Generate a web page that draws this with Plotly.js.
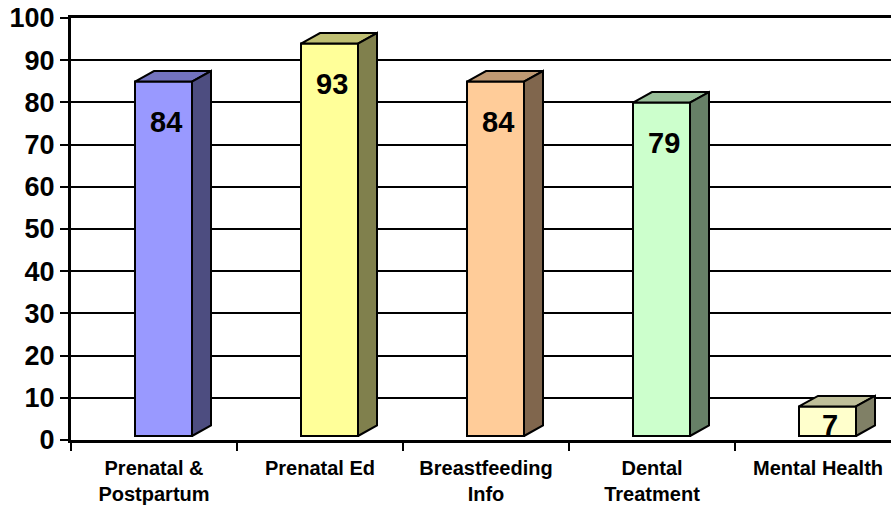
<!DOCTYPE html>
<html>
<head>
<meta charset="utf-8">
<script src="https://cdn.plot.ly/plotly-3.0.1.min.js"></script>
<style>html,body{margin:0;padding:0;background:#fff;}#chart{width:891px;height:506px;}</style>
</head>
<body>
<div id="chart"></div>
<script>
// ---- data ----
const categories = ["Prenatal &<br>Postpartum", "Prenatal Ed", "Breastfeeding<br>Info", "Dental<br>Treatment", "Mental Health"];
const values = [84, 93, 84, 79, 7];
const frontColors = ["#9999FF", "#FFFF99", "#FFCC99", "#CCFFCC", "#FFFFCC"];
const yTicks = [0, 10, 20, 30, 40, 50, 60, 70, 80, 90, 100];

// ---- geometry (pixels -> data units) ----
const W = 891, H = 506;
const margin = {l: 71, r: 0, t: 18, b: 66};
const plotW = W - margin.l - margin.r;
const plotH = H - margin.t - margin.b;
const catPx = 166;                 // pixels per category
const xMin = -0.5, xMax = xMin + plotW / catPx;
const yMin = 0, yMax = 100;
const pxY = plotH / (yMax - yMin);
const barWidth = 57 / catPx;
const barOffset = -19 / catPx;
const dx = 19 / catPx;
const dy = 10.5 / pxY;
const lift = 4 / pxY;

function shade(hex, f) {
  const n = parseInt(hex.slice(1), 16);
  const r = Math.round(((n >> 16) & 255) * f), g = Math.round(((n >> 8) & 255) * f), b = Math.round((n & 255) * f);
  return `rgb(${r},${g},${b})`;
}

const traces = [];
values.forEach((v, i) => {
  const x0 = i + barOffset, x1 = x0 + barWidth;
  const yb = lift, yt = lift + v;
  // top face
  traces.push({
    type: "scatter", mode: "lines", fill: "toself", showlegend: false, hoverinfo: "skip",
    x: [x0, x0 + dx, x1 + dx, x1, x0], y: [yt, yt + dy, yt + dy, yt, yt],
    fillcolor: shade(frontColors[i], 0.75), line: {color: "#000", width: 2}
  });
  // side face
  traces.push({
    type: "scatter", mode: "lines", fill: "toself", showlegend: false, hoverinfo: "skip",
    x: [x1, x1 + dx, x1 + dx, x1, x1], y: [yb, yb + dy, yt + dy, yt, yb],
    fillcolor: shade(frontColors[i], 0.5), line: {color: "#000", width: 2}
  });
});
// front faces
traces.push({
  type: "bar", x: values.map((_, i) => i), y: values, base: lift,
  width: barWidth, offset: barOffset, showlegend: false, hoverinfo: "skip",
  marker: {color: frontColors, line: {color: "#000", width: 2}}
});

const annotations = values.map((v, i) => ({
  x: i + barOffset + barWidth / 2, y: lift + Math.max(v - 40 / pxY, 11 / pxY),
  xshift: 2, text: String(v), showarrow: false,
  font: {family: "Arial, Liberation Sans, sans-serif", size: 29, color: "#000", weight: "bold"}
}));

const layout = {
  width: W, height: H, margin: margin,
  paper_bgcolor: "#fff", plot_bgcolor: "rgba(0,0,0,0)",
  showlegend: false, annotations: annotations,
  font: {family: "Arial, Liberation Sans, sans-serif", color: "#000"},
  xaxis: {
    range: [xMin, xMax], tickmode: "array",
    tickvals: categories.map((_, i) => i), ticktext: categories,
    ticks: "", showgrid: false, zeroline: false, ticklabelstandoff: 8,
    showline: true, mirror: true, linewidth: 3, linecolor: "#000",
    tickfont: {size: 20, color: "#000", weight: "bold"},
    minor: {tickvals: categories.map((_, i) => i - 0.5), ticks: "outside", ticklen: 8, tickwidth: 2, tickcolor: "#000", showgrid: false}
  },
  yaxis: {
    range: [yMin, yMax], tickmode: "array", tickvals: yTicks, ticktext: yTicks.map(String),
    showgrid: true, gridcolor: "#000", gridwidth: 2,
    zeroline: false, showline: true, linewidth: 3, linecolor: "#000",
    ticks: "outside", ticklen: 8, tickwidth: 2, tickcolor: "#000",
    tickfont: {size: 27, color: "#000", weight: "bold"}
  }
};

Plotly.newPlot("chart", traces, layout, {displayModeBar: false, staticPlot: true});
</script>
</body>
</html>
